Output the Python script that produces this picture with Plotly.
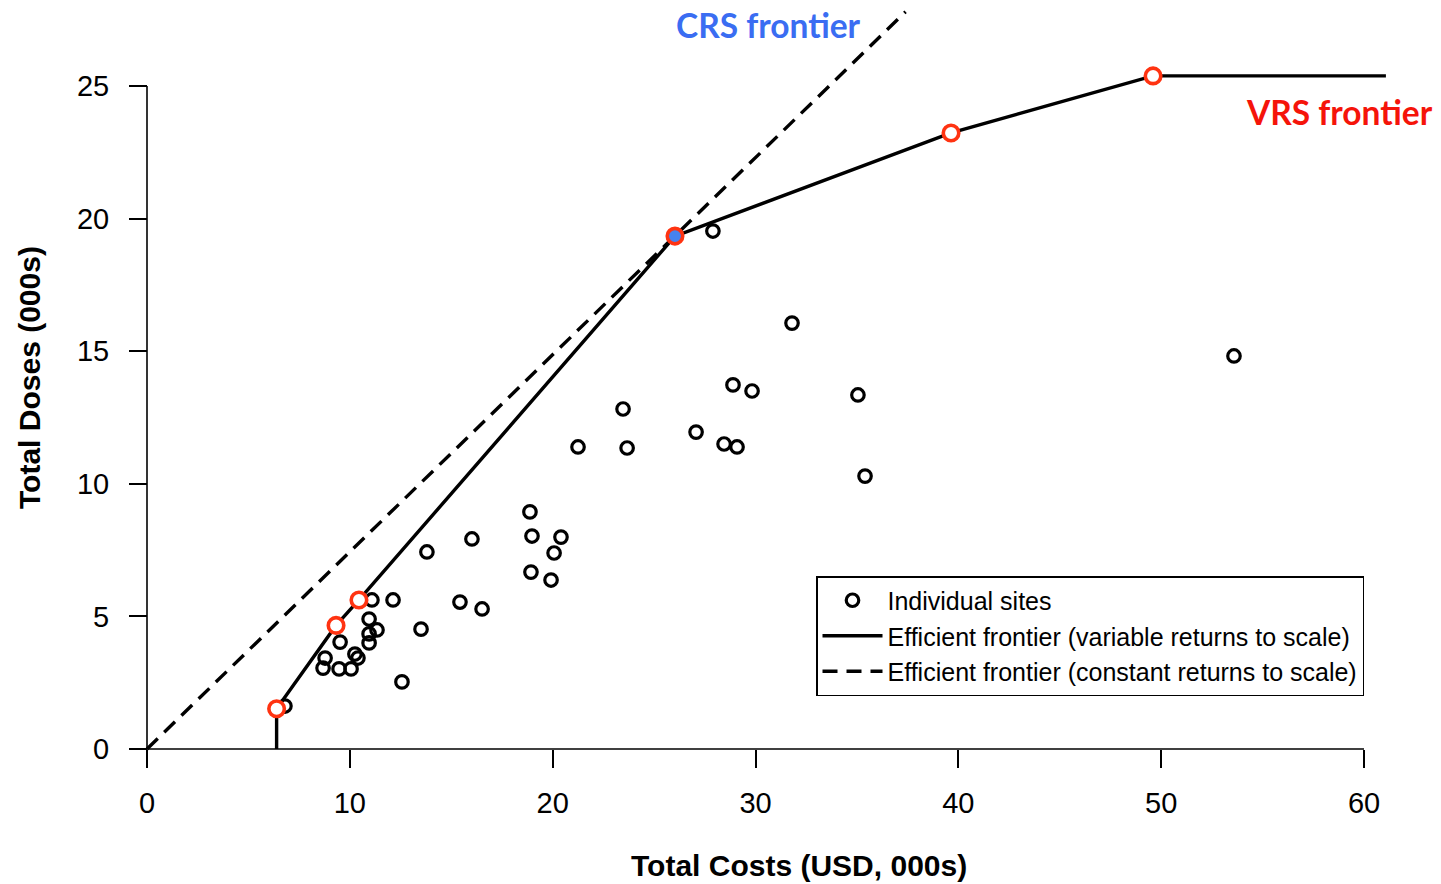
import plotly.graph_objects as go

# ---- data ----
site_cost = [6.80, 8.68, 8.78, 9.47, 9.52, 10.06, 10.25, 10.40, 10.95, 10.95, 10.95,
             11.09, 11.34, 12.13, 12.57, 13.51, 13.80, 15.43, 16.02, 16.52, 18.88,
             18.93, 18.98, 19.92, 20.07, 20.41, 21.25, 23.47, 23.67, 27.07, 27.90,
             28.45, 28.89, 29.09, 29.83, 31.80, 35.05, 35.40, 53.59]
site_doses = [1.62, 3.05, 3.43, 3.02, 4.03, 3.02, 3.58, 3.43, 4.90, 4.00, 4.34,
              5.62, 4.49, 5.62, 2.53, 4.52, 7.43, 5.54, 7.92, 5.28, 8.94,
              6.67, 8.03, 6.37, 7.39, 7.99, 11.39, 12.82, 11.35, 11.95, 19.53,
              11.50, 13.73, 11.39, 13.50, 16.06, 13.35, 10.29, 14.82]

vrs_cost = [6.39, 6.39, 9.32, 10.45, 26.03, 39.64, 49.60, 61.08]
vrs_doses = [0.00, 1.52, 4.66, 5.62, 19.34, 23.23, 25.38, 25.38]

crs_cost = [0.0, 37.4]
crs_doses = [0.0, 27.8]

eff_cost = [6.39, 9.32, 10.45, 26.03, 39.64, 49.60]
eff_doses = [1.52, 4.66, 5.62, 19.34, 23.23, 25.38]
eff_crs = [False, False, False, True, False, False]

x_ticks = [0, 10, 20, 30, 40, 50, 60]
y_ticks = [0, 5, 10, 15, 20, 25]

x_title = "Total Costs (USD, 000s)"
y_title = "Total Doses (000s)"
legend_names = ["Individual sites",
                "Efficient frontier (variable returns to scale)",
                "Efficient frontier (constant returns to scale)"]

# ---- geometry ----
W, H = 1441, 884
px_x0, px_x60 = 147, 1364
px_y0, px_y25 = 749, 86
sx = (px_x60 - px_x0) / 60.0
sy = (px_y0 - px_y25) / 25.0
x_range = [-px_x0 / sx, (W - px_x0) / sx]
y_range = [-(H - px_y0) / sy, px_y0 / sy]

RED = "#FF3311"
BLUE_PT = "#4682F0"
BLUE_TXT = "#3A6DF2"

fig = go.Figure()

fig.add_trace(go.Scatter(
    x=site_cost, y=site_doses, mode="markers", name=legend_names[0],
    marker=dict(symbol="circle-open", size=12.5, color="black", line=dict(width=3.2, color="black")),
))
fig.add_trace(go.Scatter(
    x=vrs_cost, y=vrs_doses, mode="lines", name=legend_names[1],
    line=dict(color="black", width=3.4),
))
fig.add_trace(go.Scatter(
    x=crs_cost, y=crs_doses, mode="lines", name=legend_names[2],
    line=dict(color="black", width=3.4, dash="15px,9px"),
))
fig.add_trace(go.Scatter(
    x=eff_cost, y=eff_doses, mode="markers", showlegend=False,
    marker=dict(symbol="circle", size=15.5,
                color=[BLUE_PT if c else "white" for c in eff_crs],
                line=dict(width=3.6, color=RED)),
))

# axis lines (R style: only between first and last tick)
fig.add_shape(type="line", x0=x_ticks[0], x1=x_ticks[-1], y0=0, y1=0,
              line=dict(color="black", width=1.6), layer="below")
fig.add_shape(type="line", x0=0, x1=0, y0=y_ticks[0], y1=y_ticks[-1],
              line=dict(color="black", width=1.6), layer="below")

font_main = "Liberation Sans, Arial, Helvetica, sans-serif"

fig.update_layout(
    width=W, height=H,
    margin=dict(l=0, r=0, t=0, b=0),
    paper_bgcolor="white", plot_bgcolor="white",
    font=dict(family=font_main, color="black"),
    xaxis=dict(range=x_range, anchor="free", position=(H - px_y0) / H,
               showline=False, zeroline=False, showgrid=False,
               tickmode="array", tickvals=x_ticks, ticktext=[str(v) for v in x_ticks],
               ticks="outside", ticklen=18, tickwidth=1.6, tickcolor="black",
               tickfont=dict(size=29, family=font_main, color="black"),
               ticklabelstandoff=10),
    yaxis=dict(range=y_range, anchor="free", position=px_x0 / W,
               showline=False, zeroline=False, showgrid=False,
               tickmode="array", tickvals=y_ticks, ticktext=[str(v) for v in y_ticks],
               ticks="outside", ticklen=18, tickwidth=1.6, tickcolor="black",
               tickfont=dict(size=29, family=font_main, color="black"),
               ticklabelstandoff=14),
    showlegend=True,
    legend=dict(x=816 / W, y=1 - 576 / H, xanchor="left", yanchor="top",
                bgcolor="white", bordercolor="black", borderwidth=1.5,
                font=dict(size=25, family=font_main, color="black"),
                itemwidth=60, tracegroupgap=0),
)

ann_common = dict(xref="paper", yref="paper", showarrow=False, xanchor="center", yanchor="middle")
fig.add_annotation(text="<b>" + x_title + "</b>", x=799 / W, y=1 - 865 / H,
                   font=dict(size=30, family=font_main, color="black"), **ann_common)
fig.add_annotation(text="<b>" + y_title + "</b>", x=29 / W, y=1 - 378 / H, textangle=-90,
                   font=dict(size=30, family=font_main, color="black"), **ann_common)
fig.add_annotation(text="<b>CRS frontier</b>", x=768 / W, y=1 - 25 / H,
                   font=dict(size=33.5, family="Lato, Open Sans, sans-serif", color=BLUE_TXT),
                   **ann_common)
fig.add_annotation(text="<b>VRS frontier</b>", x=1339 / W, y=1 - 112 / H,
                   font=dict(size=33.5, family="Lato, Open Sans, sans-serif", color="#F5140A"),
                   **ann_common)

fig.write_html("out.html")
